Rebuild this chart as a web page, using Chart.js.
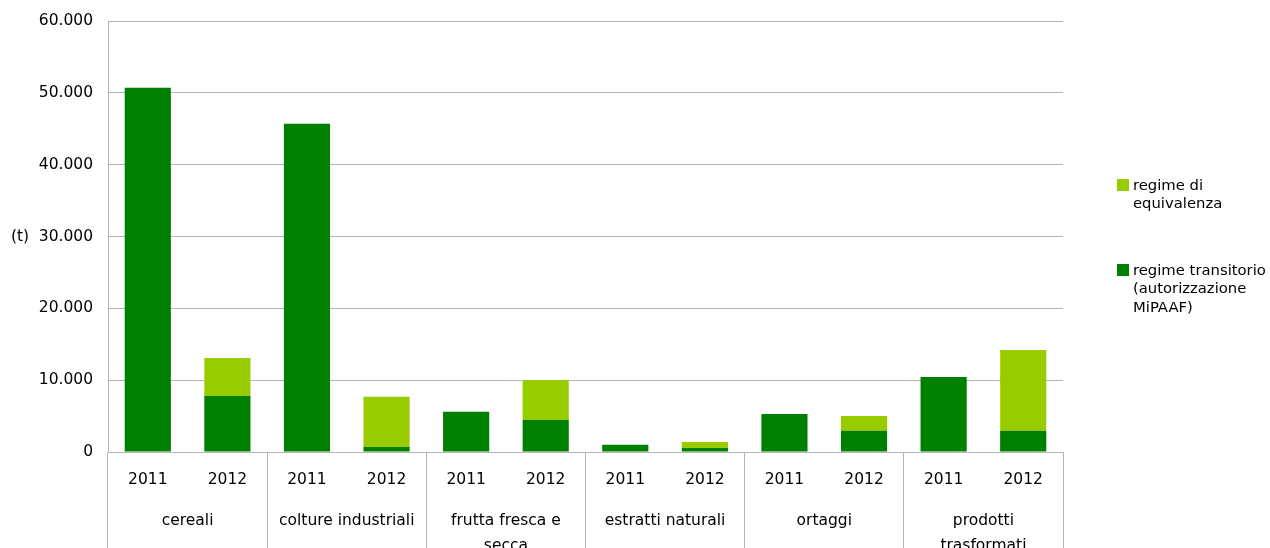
<!DOCTYPE html>
<html lang="it">
<head>
<meta charset="utf-8">
<title>Prodotti biologici importati (t)</title>
<script src="https://cdn.jsdelivr.net/npm/chart.js@4.4.1/dist/chart.umd.min.js"></script>
<style>
  html, body { margin: 0; padding: 0; background: #ffffff; overflow: hidden; }
  #wrap { width: 1270px; height: 590px; }
</style>
</head>
<body>
<div id="wrap"><canvas id="chart" width="1270" height="590"></canvas></div>
<script>
// Product groups, each with one bar per year
const groups = ['cereali', 'colture industriali', ['frutta fresca e', 'secca'], 'estratti naturali', 'ortaggi', ['prodotti', 'trasformati']];
const years = ['2011', '2012'];

// Imported quantities in tonnes, one value per group/year pair
const transitorio = [50700, 7800, 45700, 700, 5600, 4450, 1000, 560, 5300, 2950, 10450, 2950];
const equivalenza = [0, 5300, 0, 7000, 0, 5570, 0, 830, 0, 2060, 0, 11250];

const yTicks = [0, 10000, 20000, 30000, 40000, 50000, 60000];
const unitLabel = '(t)';

const seriesNames = {
  equivalenza: ['regime di', 'equivalenza'],
  transitorio: ['regime transitorio', '(autorizzazione', 'MiPAAF)']
};

const DARK = '#008000';
const LIGHT = '#99cc00';
const LINE = '#b4b4b4';
const TEXT = '#000000';
const FAMILY = "'DejaVu Sans', Verdana, sans-serif";
const FONT = { family: FAMILY, size: 15.5 };
const LEGEND_SIZE = 14.8;

const yearLabels = [];
groups.forEach(() => years.forEach(y => yearLabels.push(y)));

const fmt = v => String(v).replace(/\B(?=(\d{3})+(?!\d))/g, '.');

// Legend at the right of the plot and the unit next to the value axis
const sidePlugin = {
  id: 'sideText',
  afterDraw(chart) {
    const ctx = chart.ctx;
    const area = chart.chartArea;
    const yScale = chart.scales.y;
    ctx.save();
    ctx.fillStyle = TEXT;
    ctx.textBaseline = 'middle';
    ctx.textAlign = 'left';
    ctx.font = `${FONT.size}px ${FAMILY}`;
    ctx.fillText(unitLabel, 11, yScale.getPixelForValue(30000));

    ctx.font = `${LEGEND_SIZE}px ${FAMILY}`;
    const items = [
      { color: LIGHT, lines: seriesNames.equivalenza, top: 179 },
      { color: DARK, lines: seriesNames.transitorio, top: 264 }
    ];
    const bx = area.right + 54;
    items.forEach(it => {
      ctx.fillStyle = it.color;
      ctx.fillRect(bx, it.top, 12, 12);
      ctx.fillStyle = TEXT;
      it.lines.forEach((t, i) => ctx.fillText(t, bx + 16, it.top + 7 + i * 18.5));
    });
    ctx.restore();
  }
};

// Separators only between product groups (every second slot boundary, both ends included)
const groupBoundary = c => (c.index === undefined || c.index % 2 === 0 ? LINE : 'rgba(0,0,0,0)');

new Chart(document.getElementById('chart'), {
  type: 'bar',
  data: {
    labels: yearLabels,
    datasets: [
      { label: 'regime transitorio (autorizzazione MiPAAF)', data: transitorio, backgroundColor: DARK, borderWidth: 0 },
      { label: 'regime di equivalenza', data: equivalenza, backgroundColor: LIGHT, borderWidth: 0 }
    ]
  },
  options: {
    responsive: false,
    animation: false,
    devicePixelRatio: 1,
    layout: { padding: { top: 21, right: 207, left: 0, bottom: 0 } },
    datasets: { bar: { categoryPercentage: 1, barPercentage: 0.58 } },
    plugins: { legend: { display: false }, tooltip: { enabled: false } },
    scales: {
      y: {
        stacked: true,
        min: 0,
        max: 60000,
        afterBuildTicks: s => { s.ticks = yTicks.map(v => ({ value: v })); },
        afterFit: s => { s.width = 108; },
        ticks: { callback: v => fmt(v), font: FONT, color: TEXT, padding: 0 },
        grid: { color: LINE, lineWidth: 1, drawTicks: true, tickLength: 15, tickColor: 'rgba(0,0,0,0)' },
        border: { color: LINE, width: 1 }
      },
      x: {
        stacked: true,
        position: 'bottom',
        afterFit: s => { s.height = 50; },
        ticks: { font: FONT, color: TEXT, padding: -31, autoSkip: false, maxRotation: 0 },
        grid: {
          offset: true,
          drawOnChartArea: false,
          tickLength: 50,
          color: groupBoundary
        },
        border: { color: LINE, width: 1 }
      },
      groups: {
        type: 'category',
        position: 'bottom',
        labels: groups,
        offset: true,
        afterFit: s => { s.height = 88; },
        ticks: { font: { ...FONT, lineHeight: 1.65 }, color: TEXT, padding: -82, autoSkip: false, maxRotation: 0 },
        grid: { offset: true, drawOnChartArea: false, tickLength: 88, color: LINE },
        border: { display: false }
      }
    }
  },
  plugins: [sidePlugin]
});
</script>
</body>
</html>
